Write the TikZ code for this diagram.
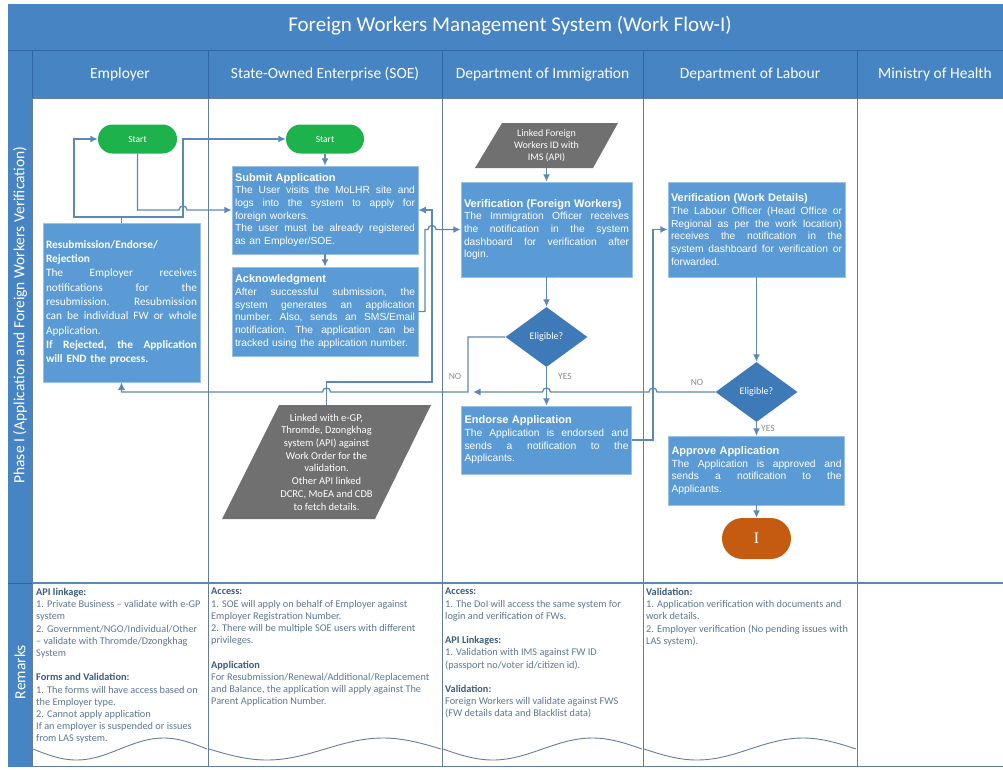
\documentclass[tikz,border=0pt]{standalone}
\usepackage{fontspec}
\setmainfont{Carlito}
\newfontfamily\arialfam{Liberation Sans}
\newfontfamily\romanfam{Liberation Serif}
\usetikzlibrary{shapes.geometric,shapes.misc,arrows.meta}

\definecolor{hdrblue}{HTML}{4784C3}
\definecolor{hdrline}{HTML}{2F66A3}
\definecolor{boxblue}{HTML}{5B9BD5}
\definecolor{boxedge}{HTML}{9CC0E6}
\definecolor{decblue}{HTML}{3F7AB8}
\definecolor{apigray}{HTML}{707070}
\definecolor{startgreen}{HTML}{1DB24C}
\definecolor{endorange}{HTML}{C55A11}
\definecolor{flow}{HTML}{5C88B6}
\definecolor{grid}{HTML}{637E9B}
\definecolor{lblgray}{HTML}{8A8A8A}
\definecolor{rmkbody}{HTML}{5E7690}
\definecolor{rmkhead}{HTML}{3D5C7D}

% one justified line of a process box (stretchable interword glue restored)
\newcommand\jl[1]{\makebox[\hsize][s]{\spaceskip=0pt\xspaceskip=0pt\frenchspacing #1}}
\newcommand\boxhead[1]{{\bfseries\fontsize{11}{12.7}\selectfont #1}}
\newcommand\rmkhd[1]{{\bfseries\color{rmkhead}#1}}

\begin{document}
\begin{tikzpicture}[x=1pt,y=-1pt,
  lane/.style={draw=grid,line width=0.9pt},
  flowarrow/.style={draw=flow,line width=1.3pt,-{Latex[length=7.5pt,width=7pt]}},
  flowline/.style={draw=flow,line width=1.3pt},
  procbox/.style={rectangle,fill=boxblue,draw=boxedge,line width=0.5pt,text=white,align=left,
    inner xsep=3pt,inner ysep=0pt,font=\arialfam\fontsize{10.3}{12.7}\selectfont},
  startbox/.style={rounded rectangle,fill=startgreen,text=white,minimum height=29pt,
    inner sep=0pt,font=\fontsize{9.5}{11}\selectfont},
  decision/.style={diamond,fill=decblue,text=white,minimum width=82pt,minimum height=60pt,
    inner sep=0pt,font=\fontsize{10}{12}\selectfont},
  apitext/.style={text=white,align=center,inner sep=0pt,minimum width=100pt},
  yesno/.style={text=lblgray,font=\fontsize{9.5}{11}\selectfont,inner sep=0pt},
  lanehead/.style={text=white,font=\fontsize{15.5}{18}\selectfont,inner sep=0pt},
  rmk/.style={anchor=north west,align=left,inner sep=0pt,text=rmkbody,
    font=\fontsize{10.3}{12.2}\selectfont},
]
\useasboundingbox (0,0) rectangle (1003,769);

% ---------- swimlane frame ----------
\fill[hdrblue] (8,4) rectangle (1003,98);
\fill[hdrblue] (8,98) rectangle (32,767);
\draw[hdrline,line width=0.8pt] (8,50) -- (1003,50);
\draw[hdrline,line width=0.8pt] (32,50) -- (32,98) (208,50) -- (208,98)
  (442,50) -- (442,98) (643,50) -- (643,98) (857,50) -- (857,98);
\draw[lane] (32,98) -- (1003,98);
\draw[lane] (32,98) -- (32,767);
\foreach \lx in {208,442,643,857} \draw[lane] (\lx,98) -- (\lx,767);
\draw[flow,line width=1.5pt] (32,583) -- (1003,583);
\draw[hdrline,line width=0.8pt] (8,583) -- (32,583);
\draw[lane] (32,766.5) -- (1003,766.5);

\node[text=white,font=\fontsize{21}{24}\selectfont,inner sep=0pt] (title) at (510,26)
  {Foreign Workers Management System (Work Flow-I)};
\node[lanehead] (hEmp) at (120,74) {Employer};
\node[lanehead] (hSoe) at (325,74) {State-Owned Enterprise (SOE)};
\node[lanehead] (hDoi) at (542.5,74) {Department of Immigration};
\node[lanehead] (hDol) at (750,74) {Department of Labour};
\node[lanehead] (hMoh) at (935,74) {Ministry of Health};
\node[lanehead,rotate=90] (phase) at (20,315)
  {Phase I (Application and Foreign Workers Verification)};
\node[lanehead,rotate=90] (remarks) at (20,672) {Remarks};

% ---------- data (API) shapes ----------
\fill[apigray] (475,168) -- (593,168) -- (618,123) -- (502,123) -- cycle;
\node[apitext,minimum height=45pt,font=\fontsize{10}{12}\selectfont] (lfw) at (546.5,145.5)
  {Linked Foreign\\Workers ID with\\IMS (API)};
\fill[apigray] (222,519) -- (375,519) -- (431,405) -- (279,405) -- cycle;
\node[apitext,minimum height=114pt,font=\fontsize{10.5}{12.7}\selectfont] (egp) at (326.5,462)
  {Linked with e-GP,\\Thromde, Dzongkhag\\system (API) against\\Work Order for the\\validation.\\
   Other API linked\\DCRC, MoEA and CDB\\to fetch details.};

% ---------- process nodes ----------
\node[startbox,minimum width=79pt] (eStart) at (137.5,139) {Start};
\node[startbox,minimum width=78pt] (sStart) at (325,139) {Start};

\node[procbox,text width=151pt,minimum height=159pt,font=\fontsize{11.3}{14.3}\selectfont]
  (resub) at (121.5,302.5)
  {\textbf{Resubmission/Endorse/}\\
   \textbf{Rejection}\\
   \jl{The Employer receives}\\
   \jl{notifications for the}\\
   \jl{resubmission. Resubmission}\\
   \jl{can be individual FW or whole}\\
   Application.\\
   \textbf{\jl{If Rejected, the Application}}\\
   \textbf{will END the process.}};

\node[procbox,text width=180pt,minimum height=88pt] (sub) at (325,210)
  {\boxhead{Submit Application}\\
   \jl{The User visits the MoLHR site and}\\
   \jl{logs into the system to apply for}\\
   foreign workers.\\
   \jl{The user must be already registered}\\
   as an Employer/SOE.};

\node[procbox,text width=180pt,minimum height=89pt] (ack) at (325,311.5)
  {\boxhead{Acknowledgment}\\
   \jl{After successful submission, the}\\
   \jl{system generates an application}\\
   \jl{number. Also, sends an SMS/Email}\\
   \jl{notification. The application can be}\\
   tracked using the application number.};

\node[procbox,text width=165pt,minimum height=95pt] (vfw) at (546.5,229.5)
  {\boxhead{Verification (Foreign Workers)}\\
   \jl{The Immigration Officer receives}\\
   \jl{the notification in the system}\\
   \jl{dashboard for verification after}\\
   login.};

\node[decision] (el1) at (546.5,337) {Eligible?};

\node[procbox,text width=164pt,minimum height=68pt] (endo) at (546.5,440)
  {\boxhead{Endorse Application}\\
   \jl{The Application is endorsed and}\\
   \jl{sends a notification to the}\\
   Applicants.};

\node[procbox,text width=171pt,minimum height=95pt] (wd) at (756.5,229.5)
  {\boxhead{Verification (Work Details)}\\
   \jl{The Labour Officer (Head Office or}\\
   \jl{Regional as per the work location)}\\
   \jl{receives the notification in the}\\
   \jl{system dashboard for verification or}\\
   forwarded.};

\node[decision] (el2) at (756.5,392) {Eligible?};

\node[procbox,text width=170pt,minimum height=69pt] (appr) at (756.5,470.5)
  {\boxhead{Approve Application}\\
   \jl{The Application is approved and}\\
   \jl{sends a notification to the}\\
   Applicants.};

\node[rounded rectangle,fill=endorange,text=white,minimum width=69pt,minimum height=41pt,
  inner sep=0pt,font=\romanfam\fontsize{16}{16}\selectfont] (term) at (756.5,538.5) {I};

% ---------- connectors ----------
\draw[flowarrow] (eStart.south) -- (eStart.south |- sub.west) -- (179,210)
  .. controls (179,204.7) and (187,204.7) .. (187,210) -- (sub.west);
\draw[flowline] (resub.north) -- (121.5,217);
\draw[flowarrow] (121.5,217) -- (74,217) -- (74,139) -- (eStart.west);
\draw[flowarrow] (121.5,217) -- (183,217) -- (183,139) -- (sStart.west);
\draw[flowarrow] (sStart.south) -- (sub.north);
\draw[flowarrow] (sub.south) -- (ack.north);
\draw[flowarrow] (ack.east) -- (425,311.5) -- (425,229.5) -- (428,229.5)
  .. controls (428,224.2) and (436,224.2) .. (436,229.5) -- (vfw.west);
\draw[flowarrow] (egp.north) -- (326.5,382) -- (432,382) -- (432,210) -- (sub.east);
\draw[flowarrow] (lfw.south) -- (vfw.north);
\draw[flowarrow] (vfw.south) -- (el1.north);
\draw[flowarrow] (el1.south) -- (endo.north);
\draw[flowarrow] (el1.west) -- (468,337) -- (468,392) -- (330.5,392)
  .. controls (330.5,386.7) and (322.5,386.7) .. (322.5,392) -- (resub.south |- 0,392) -- (resub.south);
\draw[flowarrow] (endo.east) -- (653,440) -- (653,229.5) -- (wd.west);
\draw[flowarrow] (wd.south) -- (el2.north);
\draw[flowarrow] (el2.west) -- (657,392) .. controls (657,386.7) and (649,386.7) .. (649,392)
  -- (550.5,392) .. controls (550.5,386.7) and (542.5,386.7) .. (542.5,392) -- (473,392);
\draw[flowarrow] (el2.south) -- (appr.north);
\draw[flowarrow] (appr.south) -- (term.north);

\node[yesno] (no1) at (455,376) {NO};
\node[yesno] (yes1) at (565,376) {YES};
\node[yesno] (no2) at (697,382) {NO};
\node[yesno] (yes2) at (768,428) {YES};

% ---------- remarks ----------
\foreach \xa/\xb in {33/207,209/441,443/642,644/856}
  \draw[grid,line width=0.9pt] plot[domain=0:1,samples=60]
    ({\xa+\x*(\xb-\xa)},{749+11*sin(360*\x)});

\node[rmk] (rEmp) at (36,588)
  {\rmkhd{API linkage:}\\
   1. Private Business – validate with e-GP\\
   system\\
   2. Government/NGO/Individual/Other\\
   – validate with Thromde/Dzongkhag\\
   System\\[12.2pt]
   \rmkhd{Forms and Validation:}\\
   1. The forms will have access based on\\
   the Employer type.\\
   2. Cannot apply application\\
   If an employer is suspended or issues\\
   from LAS system.};

\node[rmk] (rSoe) at (211,588)
  {\rmkhd{Access:}\\
   1. SOE will apply on behalf of Employer against\\
   Employer Registration Number.\\
   2. There will be multiple SOE users with different\\
   privileges.\\[12.2pt]
   \rmkhd{Application}\\
   For Resubmission/Renewal/Additional/Replacement\\
   and Balance, the application will apply against The\\
   Parent Application Number.};

\node[rmk] (rDoi) at (445,588)
  {\rmkhd{Access:}\\
   1. The DoI will access the same system for\\
   login and verification of FWs.\\[12.2pt]
   \rmkhd{API Linkages:}\\
   1. Validation with IMS against FW ID\\
   (passport no/voter id/citizen id).\\[12.2pt]
   \rmkhd{Validation:}\\
   Foreign Workers will validate against FWS\\
   (FW details data and Blacklist data)};

\node[rmk] (rDol) at (646,588)
  {\rmkhd{Validation:}\\
   1. Application verification with documents and\\
   work details.\\
   2. Employer verification (No pending issues with\\
   LAS system).};

\end{tikzpicture}
\end{document}
